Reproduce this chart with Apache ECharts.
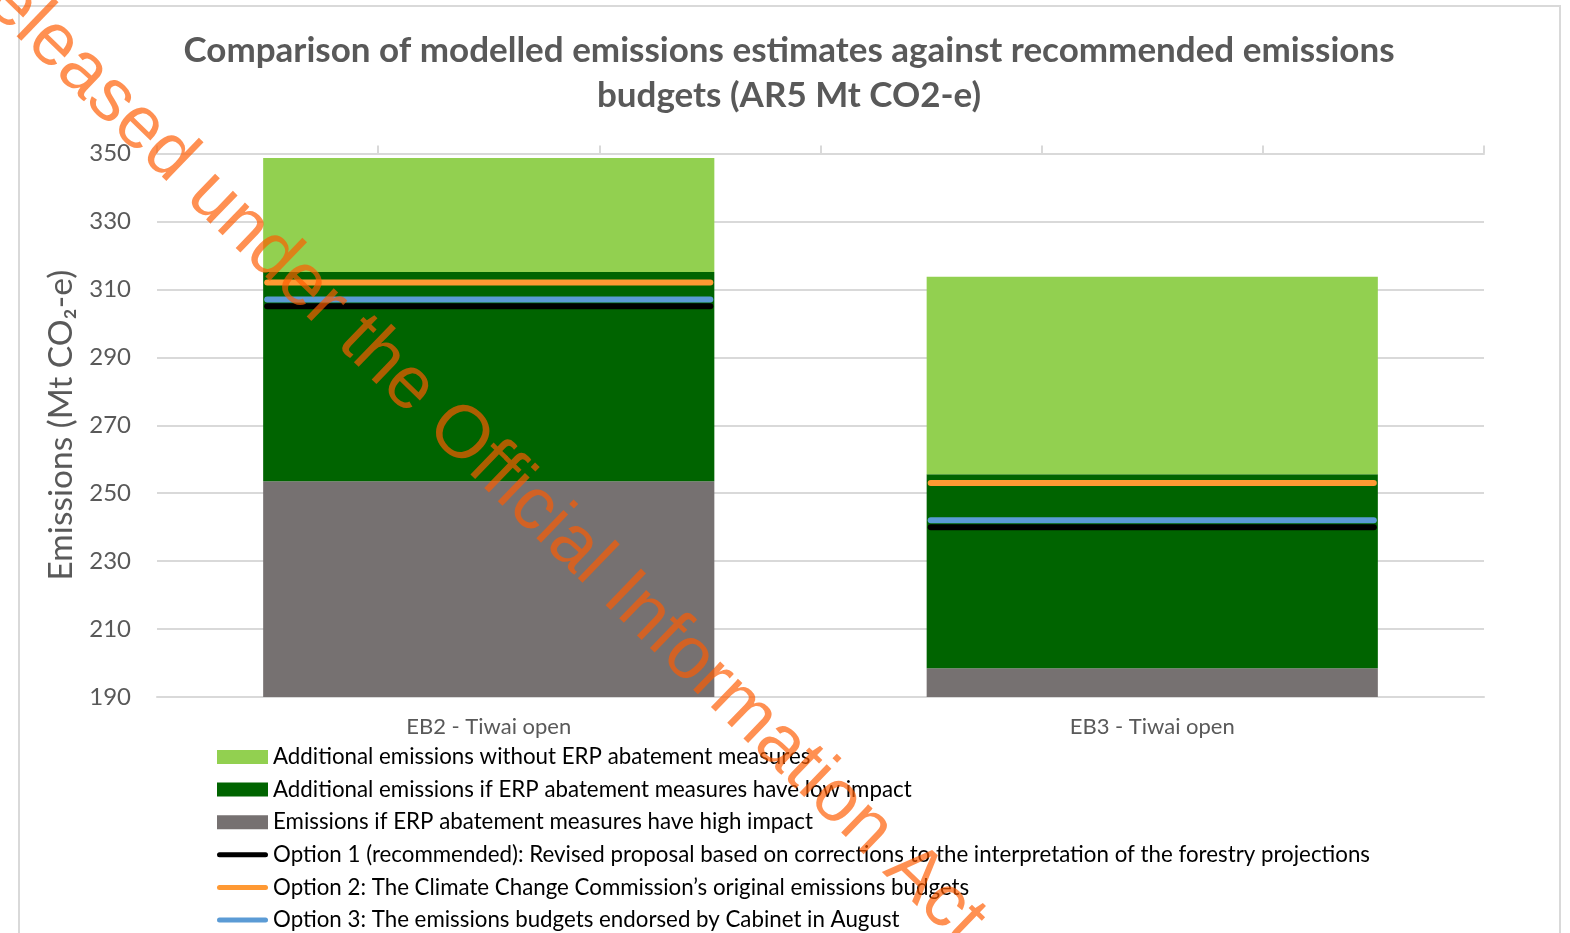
<!DOCTYPE html>
<html>
<head>
<meta charset="utf-8">
<title>Modelled emissions vs emissions budgets</title>
<script src="https://cdn.jsdelivr.net/npm/echarts@6/dist/echarts.min.js"></script>
<style>
  html, body { margin: 0; padding: 0; background: #ffffff; }
  #chart { width: 1570px; height: 933px; }
</style>
</head>
<body>
<div id="chart"></div>
<script>
// Budget periods shown on the category axis
const categories = ['EB2 - Tiwai open', 'EB3 - Tiwai open'];

// Stacked emissions components (Mt CO2-e)
const highImpactEmissions = [253.5, 198.5];
const lowImpactAdditional = [61.6, 57.1];
const noMeasuresAdditional = [33.6, 58.1];

// Emissions budget options (Mt CO2-e)
const option1Budget = [305, 240];
const option2Budget = [312, 253];
const option3Budget = [307, 242];

// Value axis range and tick step
const yMin = 190;
const yMax = 350;
const yStep = 20;

const NAMES = {
  noMeasures: 'Additional emissions without ERP abatement measures',
  lowImpact: 'Additional emissions if ERP abatement measures have low impact',
  highImpact: 'Emissions if ERP abatement measures have high impact',
  opt1: 'Option 1 (recommended): Revised proposal based on corrections to the interpretation of the forestry projections',
  opt2: 'Option 2: The Climate Change Commission\u2019s original emissions budgets',
  opt3: 'Option 3: The emissions budgets endorsed by Cabinet in August'
};

const BAR_FRACTION = 0.68;
const FONT = 'Lato, "Noto Sans", sans-serif';
const GRID_GREY = '#D9D9D9';
const TEXT_GREY = '#595959';

// Horizontal budget marker drawn across the width of each bar
function budgetLine(color) {
  return function (params, api) {
    const pt = api.coord([api.value(0), api.value(1)]);
    const band = api.size([1, 0])[0];
    const half = band * BAR_FRACTION / 2 - 4;
    return {
      type: 'line',
      shape: { x1: pt[0] - half, y1: pt[1], x2: pt[0] + half, y2: pt[1] },
      style: { stroke: color, lineWidth: 6, lineCap: 'round' }
    };
  };
}

function budgetSeries(name, values, color) {
  return {
    name: name,
    type: 'custom',
    xAxisIndex: 0,
    yAxisIndex: 0,
    itemStyle: { color: color },
    renderItem: budgetLine(color),
    data: values.map((v, i) => [categories[i], v]),
    z: 5
  };
}

const lineIcon = 'path://M2.5,0 H48.5 A2.5,2.5 0 0 1 48.5,5 H2.5 A2.5,2.5 0 0 1 2.5,0 Z';

const chart = echarts.init(document.getElementById('chart'), null, { renderer: 'canvas' });

chart.setOption({
  animation: false,
  backgroundColor: '#ffffff',
  title: {
    text: 'Comparison of modelled emissions estimates against recommended emissions\nbudgets (AR5 Mt CO2-e)',
    left: 789,
    top: 28,
    padding: 0,
    textAlign: 'center',
    textStyle: {
      fontFamily: FONT,
      fontWeight: 'bold',
      fontSize: 35,
      lineHeight: 45,
      color: TEXT_GREY
    }
  },
  grid: {
    left: 157,
    right: 86,
    top: 153.5,
    bottom: 236,
    containLabel: false
  },
  legend: {
    orient: 'vertical',
    left: 217,
    top: 746,
    height: 260,
    padding: 0,
    itemWidth: 51,
    itemHeight: 14,
    itemGap: 10.6,
    symbolKeepAspect: true,
    textStyle: { fontFamily: FONT, fontSize: 22.3, lineHeight: 22, color: '#000000' },
    data: [
      { name: NAMES.noMeasures, icon: 'rect' },
      { name: NAMES.lowImpact, icon: 'rect' },
      { name: NAMES.highImpact, icon: 'rect' },
      { name: NAMES.opt1, icon: lineIcon },
      { name: NAMES.opt2, icon: lineIcon },
      { name: NAMES.opt3, icon: lineIcon }
    ]
  },
  xAxis: [
    {
      type: 'category',
      data: categories,
      position: 'bottom',
      axisLine: { show: true, lineStyle: { color: GRID_GREY, width: 2 } },
      axisTick: { show: false },
      axisLabel: { fontFamily: FONT, fontSize: 22, color: TEXT_GREY, margin: 19 }
    },
    {
      type: 'value',
      position: 'top',
      min: 0,
      max: 6,
      interval: 1,
      axisLine: { show: true, lineStyle: { color: GRID_GREY, width: 2 } },
      axisTick: { show: true, inside: false, length: 8, lineStyle: { color: GRID_GREY, width: 2 } },
      axisLabel: { show: false },
      splitLine: { show: false }
    }
  ],
  yAxis: {
    type: 'value',
    min: yMin,
    max: yMax,
    interval: yStep,
    name: 'Emissions (Mt CO\u2082-e)',
    nameLocation: 'middle',
    nameGap: 79,
    nameRotate: 90,
    nameTextStyle: { fontFamily: FONT, fontSize: 33.5, color: TEXT_GREY },
    axisLine: { show: false },
    axisTick: { show: false },
    axisLabel: { fontFamily: FONT, fontSize: 24, color: TEXT_GREY, margin: 26 },
    splitLine: { lineStyle: { color: GRID_GREY, width: 2 } }
  },
  series: [
    {
      name: NAMES.highImpact,
      type: 'bar',
      stack: 'emissions',
      barCategoryGap: '32%',
      itemStyle: { color: '#767171' },
      data: highImpactEmissions
    },
    {
      name: NAMES.lowImpact,
      type: 'bar',
      stack: 'emissions',
      barCategoryGap: '32%',
      itemStyle: { color: '#006400' },
      data: lowImpactAdditional
    },
    {
      name: NAMES.noMeasures,
      type: 'bar',
      stack: 'emissions',
      barCategoryGap: '32%',
      itemStyle: { color: '#92D050' },
      data: noMeasuresAdditional
    },
    budgetSeries(NAMES.opt1, option1Budget, '#000000'),
    budgetSeries(NAMES.opt2, option2Budget, '#FF9933'),
    budgetSeries(NAMES.opt3, option3Budget, '#5B9BD5')
  ],
  graphic: [
    {
      type: 'rect',
      z: -10,
      silent: true,
      shape: { x: 19, y: 6, width: 1541, height: 960 },
      style: { fill: 'none', stroke: GRID_GREY, lineWidth: 2 }
    },
    {
      type: 'text',
      z: 100,
      silent: true,
      x: 466,
      y: 442,
      rotation: -44 * Math.PI / 180,
      style: {
        text: 'Released under the Official Information Act',
        fontFamily: '"Liberation Sans", Arial, sans-serif',
        fontSize: 74,
        fill: 'rgba(255, 92, 0, 0.68)',
        align: 'center',
        verticalAlign: 'middle'
      }
    }
  ]
});
</script>
</body>
</html>
